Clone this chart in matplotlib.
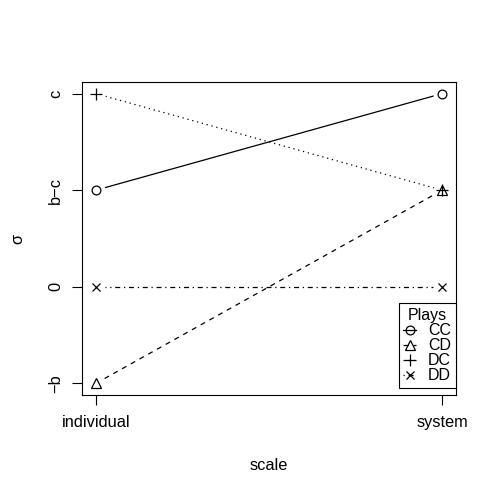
import matplotlib
matplotlib.use("Agg")
import matplotlib.pyplot as plt
from matplotlib.lines import Line2D
from matplotlib.legend_handler import HandlerTuple

plt.rcParams['font.family'] = ['Liberation Sans', 'DejaVu Sans']

scales = ["individual", "system"]
ytick_vals = [-1, 0, 1, 2]
ytick_labels = ["\u2212b", "0", "b\u2212c", "c"]
plays = ["CC", "CD", "DC", "DD"]
values = {
    "CC": [1, 2],
    "CD": [-1, 1],
    "DC": [2, 1],
    "DD": [0, 0],
}
styles = {"CC": "-", "CD": (0, (4, 4)), "DC": (0, (1, 3)), "DD": (0, (1, 3, 4, 3))}
markers = {"CC": "o", "CD": "^", "DC": "+", "DD": "x"}
msizes = {"CC": 6.3, "CD": 7.5, "DC": 8.5, "DD": 6.3}

FS = 11.8
fig = plt.figure(figsize=(4.98, 4.98), dpi=100)
ax = fig.add_axes([82/498, 1 - 395/498, 374/498, 313/498])
xs = [1, 2]
handles = []
for p in plays:
    ax.plot(xs, values[p], color="black", lw=0.9, linestyle=styles[p], zorder=2)
    ax.plot(xs, values[p], linestyle="none", marker="o", markersize=13,
            markerfacecolor="white", markeredgecolor="none", zorder=3)
    ax.plot(xs, values[p], linestyle="none", marker=markers[p], markersize=msizes[p],
            markerfacecolor="none", markeredgecolor="black", markeredgewidth=0.9, zorder=4)
    hl = Line2D([], [], color="black", lw=0.9, linestyle=styles[p])
    hm = Line2D([], [], linestyle="none", marker=markers[p], markersize=msizes[p],
                markerfacecolor="none", markeredgecolor="black", markeredgewidth=0.9)
    handles.append((hl, hm))

ax.set_xlim(0.96, 2.04)
ax.set_ylim(-1.12, 2.12)
ax.set_xticks(xs)
ax.set_xticklabels(scales, fontsize=FS)
ax.set_yticks(ytick_vals)
ax.set_yticklabels(ytick_labels, fontsize=FS, rotation=90, va="center")
ax.tick_params(axis="both", length=7.2, width=0.8, color="black")
ax.tick_params(axis="x", pad=7.5)
ax.tick_params(axis="y", pad=6.5)
for s in ax.spines.values():
    s.set_linewidth(0.8)
ax.set_xlabel("scale", fontsize=FS, va="center")
ax.xaxis.set_label_coords(0.5, -70/313)
ax.set_ylabel("\u03c3", fontsize=FS, va="center", ha="center")
ax.yaxis.set_label_coords((18 - 82)/374, 0.5)

LFS = 11.5
leg = ax.legend(handles=handles, labels=plays, title="Plays", loc="lower right",
                bbox_to_anchor=(1, 7/313),
                handler_map={tuple: HandlerTuple(ndivide=1, pad=0)},
                fontsize=LFS, title_fontsize=LFS, frameon=True, fancybox=False,
                edgecolor="black", framealpha=1,
                handlelength=0.8, handletextpad=0.75, borderpad=0.3, labelspacing=0.0,
                borderaxespad=0, numpoints=1)
leg.get_frame().set_linewidth(0.8)

fig.savefig("out.png", dpi=100)
